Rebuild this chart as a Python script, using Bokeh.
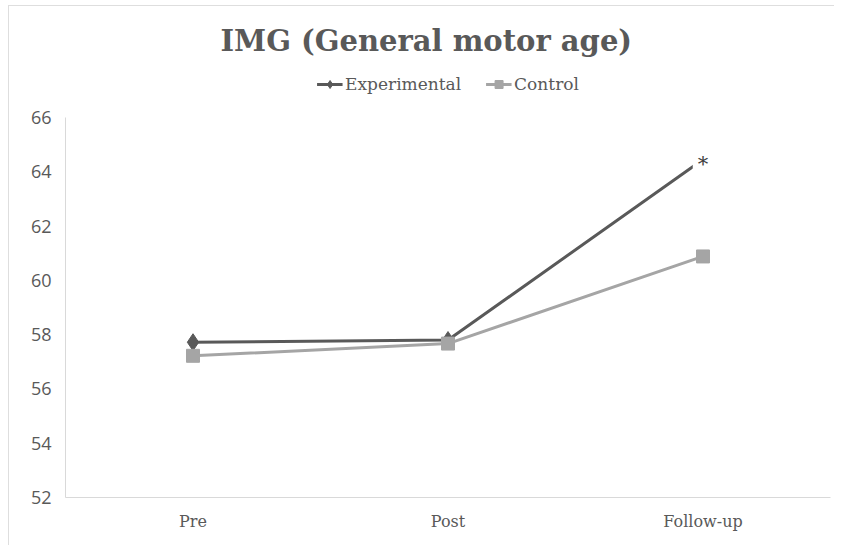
from bokeh.plotting import figure
from bokeh.models import FactorRange, Range1d, Legend, LegendItem, SingleIntervalTicker, ColumnDataSource
from bokeh.core.properties import value
from bokeh.embed import file_html
from bokeh.resources import INLINE

categories = ["Pre", "Post", "Follow-up"]
experimental = [57.72, 57.8, 64.45]
control = [57.22, 57.67, 60.88]
y_ticks_start, y_ticks_end, y_step = 52, 66, 2
note_text = "*"

DARK = "#595959"
LIGHT = "#a5a5a5"
SERIF = "DejaVu Serif"
range_top = 67.73  # extra headroom for the legend inside the frame

p = figure(x_range=FactorRange(factors=categories),
           y_range=Range1d(y_ticks_start, range_top),
           width=826, height=540, output_backend="svg", toolbar_location=None,
           min_border_left=56, min_border_right=5, min_border_bottom=49, min_border_top=64)
p.styles = {"margin-left": "8px", "margin-top": "5px",
            "border-top": "1px solid #dedede", "border-left": "1px solid #dedede"}

p.title.text = "IMG (General motor age)"
p.title.align = "left"
p.title.vertical_align = "top"
p.title.text_font = SERIF
p.title.text_font_size = "29px"
p.title.text_font_style = "bold"
p.title.text_color = DARK
p.title.offset = 155
p.title.standoff = 22

p.xgrid.visible = False
p.ygrid.visible = False
p.outline_line_color = None

p.yaxis.ticker = SingleIntervalTicker(interval=y_step)
p.yaxis.bounds = (y_ticks_start, y_ticks_end)
for ax in (p.xaxis[0], p.yaxis[0]):
    ax.axis_line_color = "#d9d9d9"
    ax.axis_line_width = 1
    ax.major_tick_line_color = None
    ax.minor_tick_line_color = None
    ax.major_label_text_color = DARK
p.yaxis.major_label_text_font = "Open Sans"
p.yaxis.major_label_text_font_size = "18px"
p.yaxis.major_label_standoff = 8
p.xaxis.major_label_text_font = SERIF
p.xaxis.major_label_text_font_size = "16px"
p.xaxis.major_label_standoff = 8

src_e = ColumnDataSource(dict(x=categories, y=experimental))
src_c = ColumnDataSource(dict(x=categories, y=control))

le = p.line("x", "y", source=src_e, line_color=DARK, line_width=3)
me = p.scatter("x", "y", source=ColumnDataSource(dict(x=categories[:-1], y=experimental[:-1])),
               marker="diamond", size=17, fill_color=DARK, line_color=DARK)
lc = p.line("x", "y", source=src_c, line_color=LIGHT, line_width=3)
mc = p.scatter("x", "y", source=src_c, marker="square", size=13, fill_color=LIGHT, line_color=LIGHT)

p.text(x=[categories[-1]], y=[experimental[-1]], text=[note_text],
       text_font=value(SERIF), text_font_size="21px", text_color="#404040",
       text_align="center", text_baseline="middle", y_offset=4,
       background_fill_color="white", padding=5)

legend = Legend(items=[LegendItem(label="Experimental", renderers=[le, me]),
                       LegendItem(label="Control", renderers=[lc, mc])],
                orientation="horizontal", location="top_center",
                label_text_font=SERIF, label_text_font_size="17px", label_text_color=DARK,
                border_line_color=None, background_fill_alpha=0,
                glyph_width=26, spacing=24, label_standoff=3, margin=4, padding=4)
p.add_layout(legend)

open("out.html", "w").write(file_html(p, INLINE))
